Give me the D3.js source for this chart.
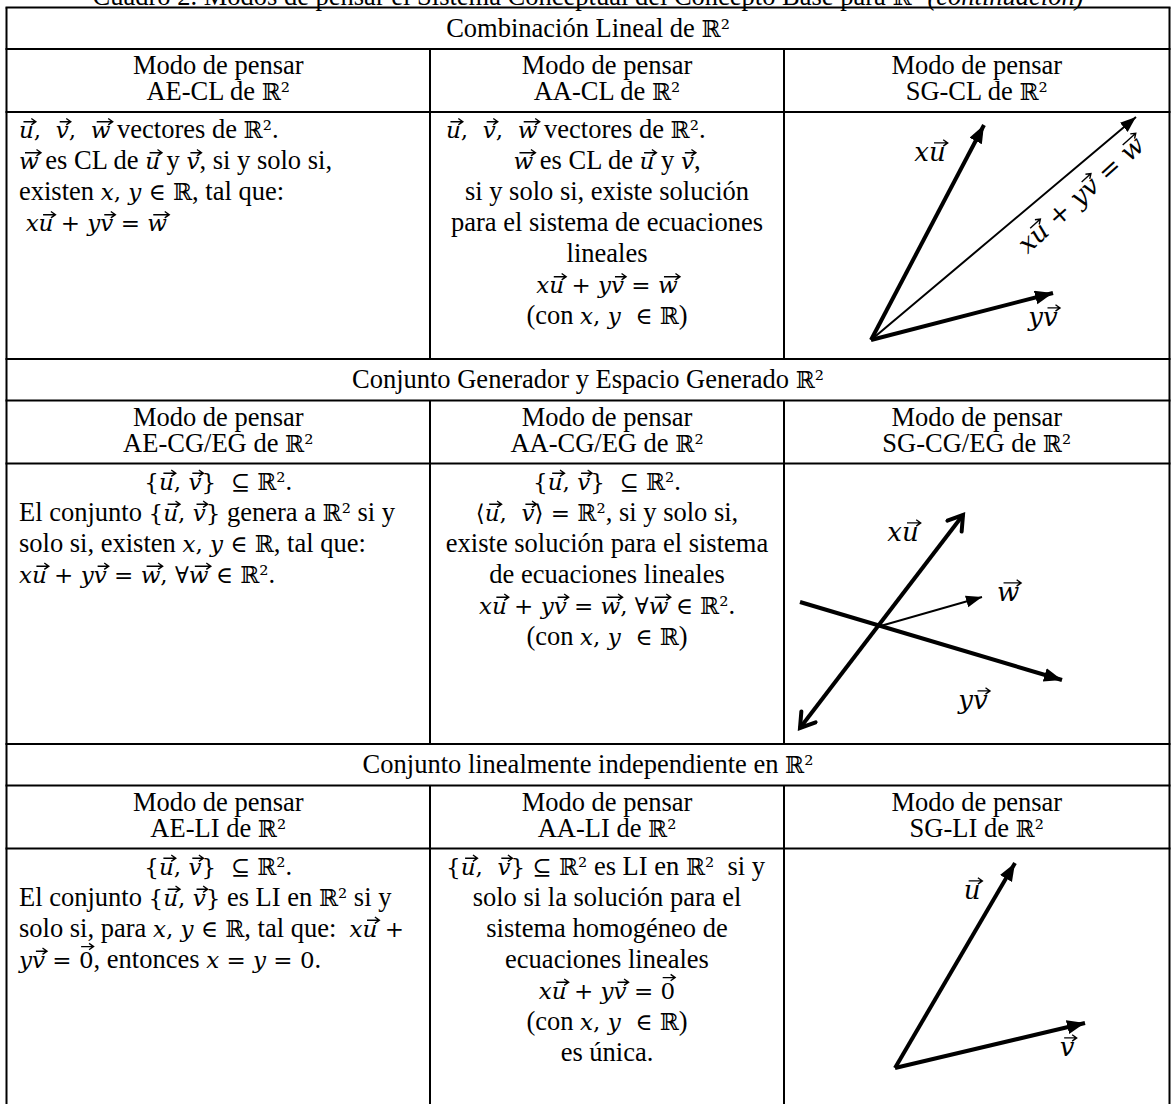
<!DOCTYPE html>
<html><head><meta charset="utf-8">
<script src="https://cdn.jsdelivr.net/npm/d3@7"></script>
<style>html,body{margin:0;padding:0;background:#fff;}svg{display:block;}text{white-space:pre;}</style>
</head><body><svg id="c" width="1171" height="1104"></svg>
<script>
// ---------- data ----------
// `...` marks math; a character followed by ⃗ gets a vector arrow
const caption = "Cuadro 2. Modos de pensar el Sistema Conceptual del Concepto Base para `ℝ²` ";
const captionTail = "(continuación)";
const sections = ["Combinación Lineal de `ℝ²`", "Conjunto Generador y Espacio Generado `ℝ²`", "Conjunto linealmente independiente en `ℝ²`"];
const modePrefix = "Modo de pensar";
const modes = [["AE-CL", "AA-CL", "SG-CL"], ["AE-CG/EG", "AA-CG/EG", "SG-CG/EG"], ["AE-LI", "AA-LI", "SG-LI"]];
// content lines: [text, align] ("s" = left aligned, "m" = centered)
const clAE = [["`u⃗,  v⃗,  w⃗` vectores de `ℝ²`.", "s"], ["`w⃗` es CL de `u⃗` y `v⃗`, si y solo si,", "s"], ["existen `x, y ∈ ℝ`, tal que:", "s"], [" `xu⃗ + yv⃗ = w⃗`", "s"]];
const clAA = [["`u⃗,  v⃗,  w⃗` vectores de `ℝ²`.", "s"], ["`w⃗` es CL de `u⃗` y `v⃗`,", "m"], ["si y solo si, existe solución", "m"], ["para el sistema de ecuaciones", "m"], ["lineales", "m"], ["`xu⃗ + yv⃗ = w⃗`", "m"], ["(con `x, y  ∈ ℝ`)", "m"]];
const cgAE = [["`{u⃗, v⃗}  ⊆ ℝ²`.", "m"], ["El conjunto `{u⃗, v⃗}` genera a `ℝ²` si y", "s"], ["solo si, existen `x, y ∈ ℝ`, tal que:", "s"], ["`xu⃗ + yv⃗ = w⃗, ∀w⃗ ∈ ℝ²`.", "s"]];
const cgAA = [["`{u⃗, v⃗}  ⊆ ℝ²`.", "m"], ["`⟨u⃗,  v⃗⟩ = ℝ²`, si y solo si,", "m"], ["existe solución para el sistema", "m"], ["de ecuaciones lineales", "m"], ["`xu⃗ + yv⃗ = w⃗, ∀w⃗ ∈ ℝ²`.", "m"], ["(con `x, y  ∈ ℝ`)", "m"]];
const liAE = [["`{u⃗, v⃗}  ⊆ ℝ²`.", "m"], ["El conjunto `{u⃗, v⃗}` es LI en `ℝ²` si y", "s"], ["solo si, para `x, y ∈ ℝ`, tal que:  `xu⃗ +`", "s"], ["`yv⃗ = 0⃗`, entonces `x = y = 0`.", "s"]];
const liAA = [["`{u⃗,  v⃗} ⊆ ℝ²` es LI en `ℝ²`  si y", "s"], ["solo si la solución para el", "m"], ["sistema homogéneo de", "m"], ["ecuaciones lineales", "m"], ["`xu⃗ + yv⃗ = 0⃗`", "m"], ["(con `x, y  ∈ ℝ`)", "m"], ["es única.", "m"]];
const contents = [[clAE, clAA], [cgAE, cgAA], [liAE, liAA]];
// vector diagrams (units relative to each diagram origin; y up)
const clVectors = [{from: [0, 0], to: [11.3, 21.5], w: 4, head: "tri"}, {from: [0, 0], to: [26.5, 22.3], w: 2, head: "triThin"}, {from: [0, 0], to: [18.2, 4.7], w: 4, head: "tri"}];
const clLabels = [{at: [5.9, 18.5], t: "`xu⃗`", rot: 0}, {at: [17.2, 2.0], t: "`yv⃗`", rot: 0}, {at: [21.2, 14.3], t: "`xu⃗ + yv⃗ = w⃗`", rot: -42}];
const cgVectors = [{from: [-7.7, -10.1], to: [8.6, 11.2], w: 4, head: "chev", both: true}, {from: [-7.7, 2.5], to: [18.5, -5.3], w: 4, head: "tri"}, {from: [0, 0], to: [10.5, 3.0], w: 2, head: "triThin"}];
const cgLabels = [{at: [2.6, 9.2], t: "`xu⃗`", rot: 0}, {at: [13.1, 3.2], t: "`w⃗`", rot: 0}, {at: [9.6, -7.6], t: "`yv⃗`", rot: 0}];
const liVectors = [{from: [0, 0], to: [12, 20.5], w: 4, head: "tri"}, {from: [0, 0], to: [19, 4.5], w: 4, head: "tri"}];
const liLabels = [{at: [7.7, 17.5], t: "`u⃗`", rot: 0}, {at: [17.2, 1.8], t: "`v⃗`", rot: 0}];
const diagrams = [{vec: clVectors, lab: clLabels}, {vec: cgVectors, lab: cgLabels}, {vec: liVectors, lab: liLabels}];

// ---------- layout ----------
const svg = d3.select("#c");
const FS = 26.5, MFS = 23, LFS = 26;
const xL = 6.5, xC1 = 430, xC2 = 784, xR = 1169.5;
const secTops = [7.5, 359, 744], titleH = 41.5, headH = 63, lineH = 31;
const secBottoms = [359, 744, 1104];
const diagOrigins = [[871, 340], [877, 627], [895, 1068]];
const colStart = [19, 446];
const colMid = [(xL + xC1) / 2, (xC1 + xC2) / 2, (xC2 + xR) / 2];
const vecSpans = [];

function rich(textSel, str, mfs) {
  const ms = mfs || MFS;
  str.split("`").forEach((part, i) => {
    if (!part) return;
    if (i % 2 === 0) {
      textSel.append("tspan").attr("font-family", "'Liberation Serif', 'Times New Roman', serif").attr("font-size", FS).text(part);
      return;
    }
    const chars = Array.from(part);
    let buf = "";
    const flush = () => { if (buf) { textSel.append("tspan").attr("font-family", "'DejaVu Serif', serif").attr("font-size", ms).text(buf); buf = ""; } };
    for (let k = 0; k < chars.length; k++) {
      const c = chars[k];
      if (c === "\u20D7") continue;
      const isVec = chars[k + 1] === "\u20D7";
      const isLetter = /[a-z]/.test(c);
      if (isVec || isLetter) {
        flush();
        const ts = textSel.append("tspan").attr("font-family", "'DejaVu Serif', serif").attr("font-size", ms)
          .attr("font-style", isLetter ? "italic" : "normal").text(c);
        if (isVec) vecSpans.push({node: ts.node(), digit: !isLetter, fs: ms});
      } else buf += c;
    }
    flush();
  });
  return textSel;
}

// caption
const cap = svg.append("g").append("text").attr("x", (xL + xR) / 2).attr("y", 5).attr("text-anchor", "middle");
rich(cap, caption);
cap.append("tspan").attr("font-family", "'Liberation Serif', serif").attr("font-size", FS).attr("font-style", "italic").text(captionTail);

const lines = svg.append("g").attr("stroke", "#000").attr("stroke-width", 2);
const hy = [];
secTops.forEach(t => { hy.push(t, t + titleH, t + titleH + headH); });
lines.selectAll("line.h").data(hy).join("line").attr("class", "h")
  .attr("x1", xL - 1).attr("x2", xR + 1).attr("y1", d => d).attr("y2", d => d);
[xL, xR].forEach(x => lines.append("line").attr("x1", x).attr("x2", x).attr("y1", secTops[0]).attr("y2", 1104));
secTops.forEach((t, i) => {
  [xC1, xC2].forEach(x => lines.append("line").attr("x1", x).attr("x2", x).attr("y1", t + titleH).attr("y2", secBottoms[i]));
});

const tg = svg.append("g");
sections.forEach((s, i) => {
  rich(tg.append("text").attr("x", (xL + xR) / 2).attr("y", secTops[i] + 29).attr("text-anchor", "middle"), s);
  const ht = secTops[i] + titleH;
  modes[i].forEach((m, j) => {
    rich(tg.append("text").attr("x", colMid[j]).attr("y", ht + 25).attr("text-anchor", "middle"), modePrefix);
    rich(tg.append("text").attr("x", colMid[j]).attr("y", ht + 51).attr("text-anchor", "middle"), m + " de `ℝ²`");
  });
  const ct = ht + headH;
  contents[i].forEach((col, j) => {
    col.forEach((ln, k) => {
      const t = tg.append("text").attr("y", ct + 26 + k * lineH)
        .attr("x", ln[1] === "m" ? colMid[j] : colStart[j])
        .attr("text-anchor", ln[1] === "m" ? "middle" : "start");
      rich(t, ln[0]);
    });
  });
});

// markers
const defs = svg.append("defs");
defs.append("marker").attr("id", "tri").attr("markerUnits", "userSpaceOnUse").attr("markerWidth", 22).attr("markerHeight", 18)
  .attr("refX", 18).attr("refY", 7).attr("orient", "auto").append("path").attr("d", "M0,0 L18,7 L0,14 Z").attr("fill", "#000");
defs.append("marker").attr("id", "triThin").attr("markerUnits", "userSpaceOnUse").attr("markerWidth", 20).attr("markerHeight", 16)
  .attr("refX", 16).attr("refY", 6).attr("orient", "auto").append("path").attr("d", "M0,0 L16,6 L0,12 Z").attr("fill", "#000");
defs.append("marker").attr("id", "chev").attr("markerUnits", "userSpaceOnUse").attr("markerWidth", 24).attr("markerHeight", 24)
  .attr("refX", 17).attr("refY", 11).attr("orient", "auto-start-reverse").append("path").attr("d", "M3,2 L17,11 L3,20")
  .attr("fill", "none").attr("stroke", "#000").attr("stroke-width", 4).attr("stroke-linecap", "round");

diagrams.forEach((dg, i) => {
  const [ox, oy] = diagOrigins[i];
  const sx = d3.scaleLinear().domain([0, 1]).range([ox, ox + 10]);
  const sy = d3.scaleLinear().domain([0, 1]).range([oy, oy - 10]);
  const g = svg.append("g");
  g.selectAll("line").data(dg.vec).join("line")
    .attr("x1", d => sx(d.from[0])).attr("y1", d => sy(d.from[1]))
    .attr("x2", d => sx(d.to[0])).attr("y2", d => sy(d.to[1]))
    .attr("stroke", "#000").attr("stroke-width", d => d.w)
    .attr("marker-end", d => `url(#${d.head})`)
    .attr("marker-start", d => d.both ? `url(#${d.head})` : null);
  dg.lab.forEach(l => {
    const lg = g.append("g").attr("transform", `translate(${sx(l.at[0])},${sy(l.at[1])}) rotate(${l.rot})`);
    rich(lg.append("text").attr("text-anchor", "middle").attr("dy", "0.35em"), l.t, LFS);
  });
});

// vector arrows over letters
vecSpans.forEach(v => {
  const b = v.node.getBBox();
  const fs = v.fs;
  const base = b.y + b.height - 0.236 * fs;
  const y = base - (v.digit ? 0.76 : 0.56) * fs - 3;
  const x1 = b.x + b.width * (v.digit ? 0.15 : 0.3), x2 = b.x + b.width + (v.digit ? 0 : 2);
  const parent = d3.select(v.node.parentNode.parentNode);
  parent.append("path")
    .attr("d", `M${x1},${y} L${x2},${y} M${x2 - 4.5},${y - 3.2} L${x2},${y} L${x2 - 4.5},${y + 3.2}`)
    .attr("fill", "none").attr("stroke", "#000").attr("stroke-width", 1.4);
});
</script></body></html>
